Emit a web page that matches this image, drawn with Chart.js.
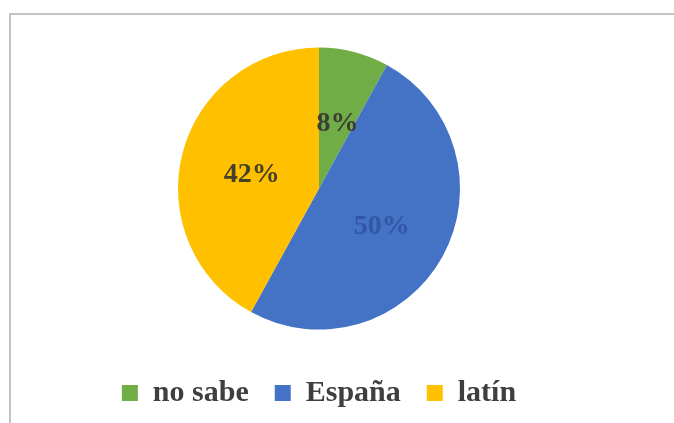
<!DOCTYPE html>
<html>
<head>
<meta charset="utf-8">
<script src="https://cdn.jsdelivr.net/npm/chart.js@4/dist/chart.umd.min.js"></script>
<style>
  html, body { margin:0; padding:0; background:#fff; }
  #wrap { position:relative; width:674px; height:423px; overflow:hidden; }
  #frame { position:absolute; left:9px; top:13px; width:700px; height:500px;
           border-top:2px solid #c4c4c4; border-left:2px solid #c4c4c4; }
  #chart { position:absolute; left:0; top:0; }
</style>
</head>
<body>
<div id="wrap">
  <div id="frame"></div>
  <canvas id="chart" width="674" height="423"></canvas>
</div>
<script>
const categories = ['no sabe', 'España', 'latín'];
const shares = [8, 50, 42];
const sliceColors = ['#70AD47', '#4472C4', '#FFC000'];
const labelColors = ['#3a3f35', '#3456a6', '#45402a'];

// etiquetas de porcentaje dentro de cada sector
const pctLabels = {
  id: 'pctLabels',
  afterDatasetsDraw(chart) {
    const ctx = chart.ctx;
    const meta = chart.getDatasetMeta(0);
    ctx.save();
    ctx.font = 'bold 28px "Liberation Serif", "Times New Roman", serif';
    ctx.textAlign = 'center';
    ctx.textBaseline = 'middle';
    meta.data.forEach((arc, i) => {
      const p = arc.tooltipPosition();
      ctx.fillStyle = labelColors[i];
      ctx.fillText(shares[i] + '%', p.x + 1, p.y + 4);
    });
    ctx.restore();
  }
};

new Chart(document.getElementById('chart'), {
  type: 'pie',
  data: {
    labels: categories,
    datasets: [{
      data: shares,
      backgroundColor: sliceColors,
      borderWidth: 0,
      radius: 141
    }]
  },
  options: {
    responsive: false,
    animation: false,
    layout: { padding: { top: 25, right: 36, left: 0, bottom: 5 } },
    plugins: {
      tooltip: { enabled: false },
      legend: {
        position: 'bottom',
        labels: {
          boxWidth: 16,
          boxHeight: 16,
          padding: 26,
          color: '#3f3f3f',
          font: { family: '"Liberation Serif", "Times New Roman", serif', size: 30, weight: 'bold' }
        }
      }
    }
  },
  plugins: [pctLabels]
});
</script>
</body>
</html>
